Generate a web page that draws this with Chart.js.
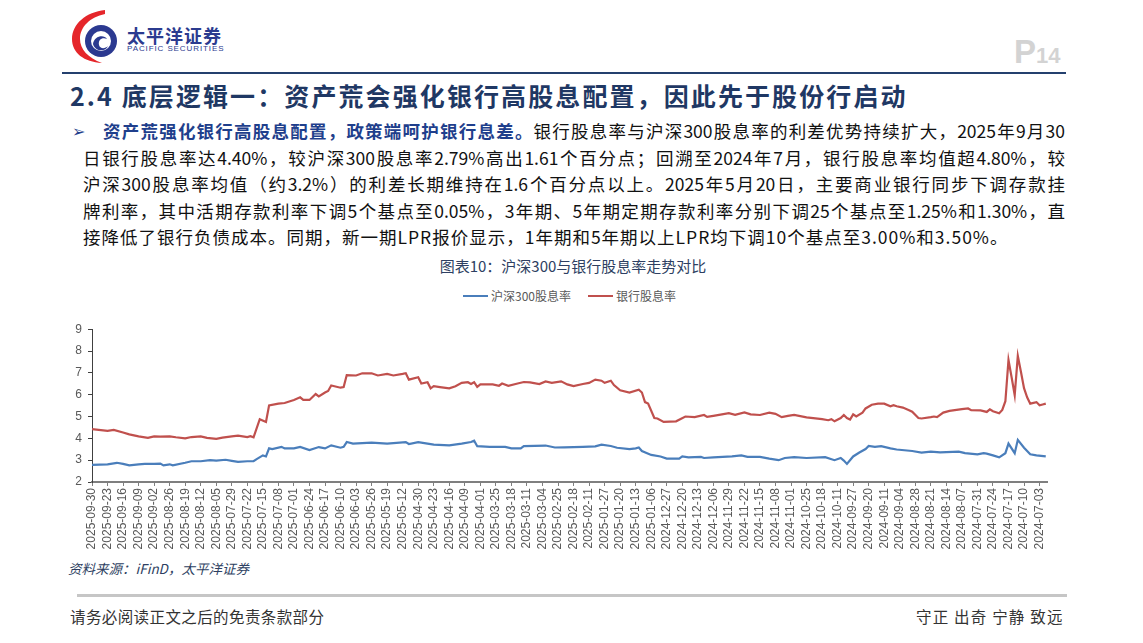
<!DOCTYPE html>
<html>
<head>
<meta charset="utf-8">
<script src="https://cdn.jsdelivr.net/npm/chart.js@4.4.1/dist/chart.umd.min.js"></script>
<style>
  body { margin: 0; width: 1143px; height: 643px; background: #fff; position: relative; overflow: hidden;
         font-family: "Noto Sans CJK SC", "Liberation Sans", sans-serif; }
  .abs { position: absolute; white-space: nowrap; }
  #logoText { left: 127px; top: 22px; font-size: 18px; font-weight: bold; color: #2b3b8f; letter-spacing: 1px; }
  #logoSub { left: 127px; top: 44px; font-size: 8px; color: #2b3b8f; letter-spacing: 0.9px; font-family: "Liberation Sans", sans-serif; }
  #page { left: 1014px; top: 33px; color: #d3d3d3; font-weight: bold; font-family: "Liberation Sans", sans-serif; }
  #page b { font-size: 33px; } #page span { font-size: 22px; }
  #hline { left: 62px; top: 72px; width: 1004px; height: 2px; background: #24406e; }
  #title { left: 70px; top: 77px; font-size: 25px; font-weight: bold; color: #1f3864; letter-spacing: 2.1px; }
  .para { position: absolute; left: 83px; width: 982px; font-size: 17.5px; color: #111; line-height: 26px; }
  .just { text-align: justify; text-align-last: justify; }
  .para b { color: #1f3f8c; }
  #ctitle { left: 433px; width: 280px; text-align: center; top: 255px; font-size: 15px; color: #2e3f62; }
  #legend { left: 463px; top: 287px; font-size: 12px; color: #595959; display: flex; align-items: center; }
  #legend .sw { display: inline-block; width: 25px; height: 2px; margin-right: 3px; }
  #legend .it { display: flex; align-items: center; margin-right: 17px; }
  #chartBox { position: absolute; left: 56px; top: 316px; width: 1000px; height: 241px; }
  #source { left: 68px; top: 558px; font-size: 13.5px; font-style: italic; color: #2e3f62; }
  #fline { left: 77px; top: 594px; width: 990px; height: 3px; background: #c6c6c6; }
  #foot1 { left: 70px; top: 605px; font-size: 15.5px; color: #333; letter-spacing: 0.4px; }
  #foot2 { left: 916px; top: 605px; font-size: 15.5px; color: #333; letter-spacing: 1.2px; }
</style>
</head>
<body>
<svg class="abs" style="left:68px;top:8px" width="60" height="56" viewBox="0 0 60 56">
  <path d="M37 2 C18 4 4 16 4 31 C4 45 16 54 34 55 C20 50 12 41 12 31 C12 19 22 9 37 6 Z" fill="#e5262b"/>
  <circle cx="33" cy="33" r="16" fill="#2b3990"/>
  <circle cx="33" cy="33" r="10" fill="#fff"/>
  <path d="M25 36 C26 28 36 26 39 31 C34 29 30 32 31 37 C32 41 37 41 40 38 C38 44 27 44 25 36 Z" fill="#2b3990"/>
</svg>
<div class="abs" id="logoText">太平洋证券</div>
<div class="abs" id="logoSub">PACIFIC SECURITIES</div>
<div class="abs" id="page"><b>P</b><span>14</span></div>
<div class="abs" id="hline"></div>
<div class="abs" id="title">2.4 底层逻辑一：资产荒会强化银行高股息配置，因此先于股份行启动</div>

<div class="abs" style="left:72px;top:118px;font-size:16px;color:#1f3f8c;">➢</div>
<div class="para just" style="left:103px;width:962px;top:118px;"><b>资产荒强化银行高股息配置，政策端呵护银行息差。</b>银行股息率与沪深300股息率的利差优势持续扩大，2025年9月30</div>
<div class="para just" style="top:145px;">日银行股息率达4.40%，较沪深300股息率2.79%高出1.61个百分点；回溯至2024年7月，银行股息率均值超4.80%，较</div>
<div class="para just" style="top:171px;">沪深300股息率均值（约3.2%）的利差长期维持在1.6个百分点以上。2025年5月20日，主要商业银行同步下调存款挂</div>
<div class="para just" style="top:198px;">牌利率，其中活期存款利率下调5个基点至0.05%，3年期、5年期定期存款利率分别下调25个基点至1.25%和1.30%，直</div>
<div class="para" style="top:224px;letter-spacing:1px;">接降低了银行负债成本。同期，新一期LPR报价显示，1年期和5年期以上LPR均下调10个基点至3.00%和3.50%。</div>

<div class="abs" id="ctitle">图表10：沪深300与银行股息率走势对比</div>
<div class="abs" id="legend"></div>
<div id="chartBox"><canvas id="divChart"></canvas></div>
<div class="abs" id="source">资料来源：iFinD，太平洋证券</div>
<div class="abs" id="fline"></div>
<div class="abs" id="foot1">请务必阅读正文之后的免责条款部分</div>
<div class="abs" id="foot2">守正 出奇 宁静 致远</div>

<script>
// weekly tick labels, every 5th trading day, newest first
const tickLabels = ['2025-09-30','2025-09-23','2025-09-16','2025-09-09','2025-09-02','2025-08-26','2025-08-19','2025-08-12',
  '2025-08-05','2025-07-29','2025-07-22','2025-07-15','2025-07-08','2025-07-01','2025-06-24','2025-06-17','2025-06-10',
  '2025-06-03','2025-05-26','2025-05-19','2025-05-12','2025-04-30','2025-04-23','2025-04-16','2025-04-09','2025-04-01',
  '2025-03-25','2025-03-18','2025-03-11','2025-03-04','2025-02-25','2025-02-18','2025-02-11','2025-01-27','2025-01-20',
  '2025-01-13','2025-01-06','2024-12-27','2024-12-20','2024-12-13','2024-12-06','2024-11-29','2024-11-22','2024-11-15',
  '2024-11-08','2024-11-01','2024-10-25','2024-10-18','2024-10-11','2024-09-27','2024-09-20','2024-09-11','2024-09-04',
  '2024-08-28','2024-08-21','2024-08-14','2024-08-07','2024-07-31','2024-07-24','2024-07-17','2024-07-10','2024-07-03'];

const seriesNames = ['沪深300股息率', '银行股息率'];

// trading-day index (0 = 2025-09-30) and value
const hsDays = [0,5,8,10,12,15,17,20,22,23,25,26,30,32,35,38,40,43,45,47,50,52,53,55,56,57,58,61,62,65,67,70,73,75,77,80,81,82,84,
  90,95,101,102,105,108,110,115,119,122,123,124,128,133,135,138,139,146,149,152,158,162,164,167,169,173,175,176,177,180,183,
  185,189,190,192,196,197,200,206,209,211,215,218,221,223,226,230,236,239,241,242,243,245,247,249,250,252,254,257,259,264,267,
  270,273,279,281,285,287,288,290,292,294,295,297,298,300,302,304,307];
const hs300 = [2.78,2.81,2.88,2.83,2.76,2.81,2.83,2.83,2.84,2.76,2.81,2.76,2.88,2.95,2.95,3.00,2.98,3.02,2.97,2.92,2.95,2.95,3.05,
  3.22,3.17,3.54,3.51,3.61,3.54,3.54,3.61,3.46,3.60,3.54,3.68,3.57,3.61,3.83,3.76,3.80,3.76,3.83,3.74,3.83,3.76,3.71,3.68,3.76,
  3.83,3.89,3.64,3.61,3.61,3.54,3.54,3.64,3.67,3.58,3.59,3.61,3.63,3.71,3.65,3.57,3.51,3.54,3.58,3.42,3.24,3.17,3.07,3.07,3.17,
  3.13,3.15,3.10,3.13,3.17,3.22,3.15,3.15,3.07,3.00,3.10,3.14,3.10,3.14,3.00,3.10,2.98,2.83,3.17,3.35,3.51,3.65,3.61,3.64,3.54,
  3.49,3.42,3.35,3.39,3.36,3.39,3.32,3.27,3.32,3.30,3.22,3.13,3.32,3.76,3.32,3.93,3.57,3.27,3.22,3.17];

const bankDays = [0,5,7,10,12,15,18,20,22,25,27,30,32,35,37,40,42,45,47,50,51,52,54,56,57,60,62,65,67,68,70,72,73,75,76,77,80,81,
  82,85,87,90,92,95,97,100,101,102,105,106,108,109,110,112,115,117,119,121,122,123,124,125,129,131,132,134,137,139,141,144,146,
  148,151,153,155,158,160,162,164,165,167,168,170,173,176,177,178,179,181,182,184,188,191,194,197,198,200,205,207,210,212,215,
  218,220,222,224,226,230,235,237,238,239,241,242,243,244,245,246,248,249,251,253,255,257,258,259,261,263,264,266,267,270,271,
  272,274,276,280,282,283,286,288,289,290,292,293,294,295,296,297,298,299,300,301,302,304,305,306,307];
const bankDiv = [4.42,4.34,4.39,4.27,4.18,4.09,4.02,4.09,4.08,4.09,4.05,4.00,4.06,4.09,4.02,3.98,4.03,4.09,4.12,4.06,4.10,4.05,
  4.88,4.75,5.51,5.59,5.62,5.76,5.88,5.76,5.76,6.03,5.92,6.10,6.17,6.42,6.32,6.35,6.90,6.88,6.98,6.98,6.88,6.95,6.88,6.95,6.98,
  6.69,6.80,6.51,6.57,6.29,6.39,6.35,6.29,6.39,6.54,6.57,6.49,6.57,6.36,6.47,6.47,6.41,6.51,6.41,6.51,6.58,6.56,6.49,6.61,6.54,
  6.61,6.47,6.39,6.49,6.54,6.69,6.64,6.54,6.64,6.44,6.20,6.10,6.23,6.10,5.66,5.59,4.93,4.91,4.75,4.78,5.00,4.97,5.07,4.98,5.03,
  5.15,5.08,5.19,5.10,5.07,5.18,5.12,4.97,5.03,5.07,4.96,4.88,4.83,4.88,4.78,4.93,5.07,4.93,4.86,5.10,5.00,5.18,5.37,5.54,5.59,
  5.59,5.47,5.52,5.47,5.41,5.29,5.22,4.93,4.91,4.97,5.00,4.97,5.18,5.26,5.34,5.37,5.29,5.28,5.21,5.33,5.24,5.15,5.30,5.70,7.59,
  6.80,5.98,7.78,7.05,6.30,5.88,5.59,5.66,5.51,5.55,5.59];

const yTicks = [2, 3, 4, 5, 6, 7, 8, 9];

const toPoints = (days, vals) => days.map((d, i) => ({ x: d, y: vals[i] }));

const tickFont = { family: 'Liberation Sans', size: 12 };

const chart = new Chart(document.getElementById('divChart'), {
  type: 'line',
  data: {
    datasets: [
      { label: seriesNames[0], data: toPoints(hsDays, hs300), borderColor: '#4a7ebb', borderWidth: 2.2, pointRadius: 0, tension: 0 },
      { label: seriesNames[1], data: toPoints(bankDays, bankDiv), borderColor: '#c0504d', borderWidth: 2.2, pointRadius: 0, tension: 0 }
    ]
  },
  options: {
    responsive: true,
    maintainAspectRatio: false,
    animation: false,
    layout: { padding: { top: 6, right: 5, left: 0, bottom: 0 } },
    plugins: { legend: { display: false }, tooltip: { enabled: false } },
    scales: {
      x: {
        type: 'linear',
        min: 0,
        max: 307.5,
        afterBuildTicks: scale => { scale.ticks = tickLabels.map((_, i) => ({ value: i * 5 })); },
        afterFit: scale => { scale.height = 75; },
        ticks: { autoSkip: false, minRotation: 90, maxRotation: 90, padding: 2, color: '#595959', font: tickFont,
                 callback: v => tickLabels[Math.round(v / 5)] },
        grid: { drawOnChartArea: false, drawTicks: true, tickLength: 4, color: '#7f7f7f', lineWidth: 1 },
        border: { color: '#7f7f7f', width: 2 }
      },
      y: {
        min: 2,
        max: 9,
        afterBuildTicks: scale => { scale.ticks = yTicks.map(v => ({ value: v })); },
        afterFit: scale => { scale.width = 36; },
        ticks: { padding: 6, color: '#595959', font: tickFont },
        grid: { drawOnChartArea: false, drawTicks: true, tickLength: 4, color: '#404040' },
        border: { color: '#404040', width: 1 }
      }
    }
  }
});

// legend built from the datasets
const legendEl = document.getElementById('legend');
chart.data.datasets.forEach(ds => {
  const it = document.createElement('span');
  it.className = 'it';
  it.innerHTML = `<span class="sw" style="background:${ds.borderColor}"></span>${ds.label}`;
  legendEl.appendChild(it);
});
</script>
</body>
</html>
